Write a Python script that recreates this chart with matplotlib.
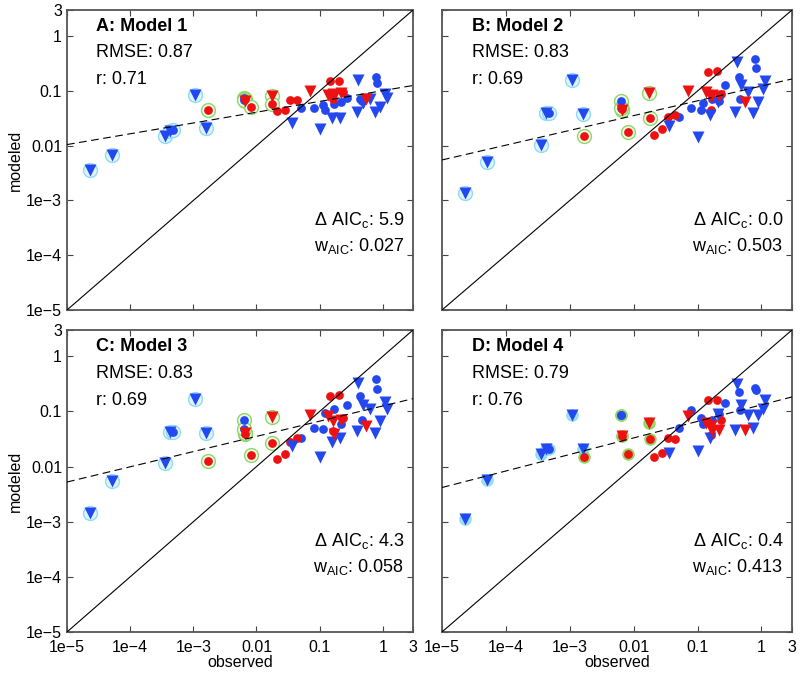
import matplotlib
matplotlib.use("Agg")
import matplotlib.pyplot as plt
import numpy as np

plt.rcParams['font.family'] = ['Liberation Sans', 'DejaVu Sans']
plt.rcParams['mathtext.default'] = 'regular'

# observed values (shared by all four models)
obs = [2.3e-5, 5.1e-5, 3.6e-4, 4.3e-4, 4.8e-4, 1.07e-3, 1.6e-3, 1.7e-3, 6.4e-3, 6.6e-3,
       6.5e-3, 6.3e-3, 8.1e-3, 0.0174, 0.0178, 0.021, 0.028, 0.034, 0.044,
       0.145, 0.20, 0.07, 0.135, 0.16, 0.22, 0.16, 0.235, 0.55, 0.41, 0.78, 0.82, 0.62,
       1.07, 0.39, 0.74, 0.89, 0.08, 0.115, 0.12, 0.27, 0.17, 0.22, 0.155, 0.21, 0.1,
       0.051, 0.44, 0.036, 1.15, 0.48, 0.46, 0.17]

# marker type: bv blue triangle, bo blue circle, rv red triangle, ro red circle
kind = ['bv', 'bv', 'bv', 'bv', 'bo', 'bv', 'bv', 'ro', 'bo', 'ro',
        'rv', 'bo', 'ro', 'rv', 'ro', 'ro', 'ro', 'ro', 'ro',
        'ro', 'ro', 'rv', 'rv', 'rv', 'rv', 'ro', 'ro', 'rv', 'bv', 'bo', 'bo', 'bv',
        'bv', 'bv', 'bv', 'bv', 'bo', 'bo', 'bo', 'bo', 'bo', 'bo', 'bv', 'bv', 'bv',
        'bo', 'bo', 'bv', 'bv', 'bv', 'bo', 'rv']

# halo: c = cyan, g = green, n = none
halo = ['c', 'c', 'c', 'c', 'c', 'c', 'c', 'g', 'g', 'g',
        'g', 'g', 'g', 'g', 'g', 'n', 'n', 'n', 'n'] + ['n'] * 33

mod_1 = [3.6e-3, 6.9e-3, 0.0148, 0.0186, 0.019, 0.085, 0.021, 0.044, 0.075, 0.07,
         0.065, 0.068, 0.05, 0.081, 0.058, 0.043, 0.045, 0.068, 0.067,
         0.15, 0.15, 0.1, 0.083, 0.087, 0.09, 0.072, 0.095, 0.072, 0.16, 0.18, 0.14, 0.072,
         0.089, 0.042, 0.042, 0.051, 0.049, 0.056, 0.045, 0.074, 0.059, 0.062, 0.032, 0.032, 0.02,
         0.048, 0.072, 0.026, 0.075, 0.06, 0.065, 0.08]
mod_2 = [1.35e-3, 5.0e-3, 0.0103, 0.039, 0.039, 0.16, 0.038, 0.015, 0.066, 0.046,
         0.044, 0.048, 0.018, 0.091, 0.032, 0.016, 0.020, 0.033, 0.037,
         0.22, 0.23, 0.1, 0.095, 0.078, 0.081, 0.045, 0.087, 0.062, 0.34, 0.39, 0.26, 0.095,
         0.107, 0.042, 0.039, 0.063, 0.049, 0.045, 0.06, 0.13, 0.07, 0.066, 0.036, 0.062, 0.0145,
         0.033, 0.18, 0.023, 0.15, 0.13, 0.071, 0.085]
mod_3 = [1.45e-3, 5.4e-3, 0.0115, 0.042, 0.042, 0.17, 0.040, 0.0126, 0.071, 0.039,
         0.040, 0.049, 0.016, 0.080, 0.027, 0.014, 0.017, 0.028, 0.033,
         0.19, 0.2, 0.087, 0.082, 0.066, 0.071, 0.044, 0.076, 0.054, 0.33, 0.39, 0.26, 0.11,
         0.15, 0.044, 0.041, 0.066, 0.05, 0.048, 0.092, 0.13, 0.11, 0.058, 0.028, 0.033, 0.015,
         0.033, 0.19, 0.024, 0.11, 0.13, 0.071, 0.039]
mod_4 = [1.1e-3, 5.8e-3, 0.017, 0.021, 0.021, 0.085, 0.021, 0.015, 0.087, 0.036,
         0.036, 0.087, 0.017, 0.062, 0.032, 0.015, 0.018, 0.033, 0.032,
         0.16, 0.16, 0.082, 0.062, 0.054, 0.047, 0.038, 0.071, 0.047, 0.32, 0.27, 0.24, 0.087,
         0.11, 0.047, 0.05, 0.087, 0.107, 0.076, 0.06, 0.14, 0.07, 0.09, 0.033, 0.09, 0.019,
         0.05, 0.23, 0.018, 0.16, 0.13, 0.107, 0.044]

titles = ['A: Model 1', 'B: Model 2', 'C: Model 3', 'D: Model 4']
rmse = ['0.87', '0.83', '0.83', '0.79']
r_val = ['0.71', '0.69', '0.69', '0.76']
d_aic = ['5.9', '0.0', '4.3', '0.4']
w_aic = ['0.027', '0.503', '0.058', '0.413']
# log-log regression lines (slope, intercept at log10(obs)=0)
fit_slope = [0.197, 0.27, 0.276, 0.30]
fit_icpt = [-0.994, -0.91, -0.90, -0.88]

ticks = [1e-5, 1e-4, 1e-3, 0.01, 0.1, 1, 3]
tick_labels = ['1e\u22125', '1e\u22124', '1e\u22123', '0.01', '0.1', '1', '3']

blue = '#2448f0'
red = '#ee1111'

fig = plt.figure(figsize=(8.05, 6.75), dpi=100)
pos = [[0.0832, 0.5407, 0.4298, 0.4444],
       [0.549, 0.5407, 0.4348, 0.4444],
       [0.0832, 0.0637, 0.4298, 0.4474],
       [0.549, 0.0637, 0.4348, 0.4474]]
mods = [mod_1, mod_2, mod_3, mod_4]

x = np.array(obs)
kind = np.array(kind)
halo = np.array(halo)

for i in range(4):
    ax = fig.add_axes(pos[i])
    y = np.array(mods[i])
    ax.set_xscale('log')
    ax.set_yscale('log')
    ax.set_xlim(1e-5, 3)
    ax.set_ylim(1e-5, 3)

    # halos
    hs = 10 if i < 3 else 8
    for h, ec, fc in [('c', '#8fdcf2', '#dcf5fc'), ('g', '#8ed86a', '#eefae6')]:
        m = halo == h
        if i == 3:
            fc = '#9fe3f5' if h == 'c' else '#a6d860'
        ax.plot(x[m], y[m], 'o', ms=hs, mfc=fc, mec=ec, mew=1.0, zorder=2)

    for k, mk, col, ms in [('bo', 'o', blue, 6.3), ('ro', 'o', red, 6.3),
                           ('bv', 'v', blue, 8), ('rv', 'v', red, 8)]:
        m = kind == k
        ax.plot(x[m], y[m], mk, ms=ms, color=col, mec='none', zorder=3)

    ax.plot([1e-5, 3], [1e-5, 3], color='black', lw=0.8, zorder=4)
    xl = np.array([1e-5, 3])
    yl = 10 ** (fit_icpt[i] + fit_slope[i] * np.log10(xl))
    ax.plot(xl, yl, color='black', lw=0.8, ls=(0, (7, 4)), zorder=4)

    ax.set_xticks(ticks)
    ax.set_yticks(ticks)
    ax.minorticks_off()
    ax.tick_params(direction='in', top=True, right=True, length=4, width=0.8,
                   labelsize=11.5, color='#444444')
    ax.tick_params(axis='x', pad=6)
    if i in (0, 2):
        ax.set_yticklabels(tick_labels)
        ax.set_ylabel('modeled', fontsize=11.5, labelpad=2)
    else:
        ax.set_yticklabels([])
    if i in (2, 3):
        ax.set_xticklabels(tick_labels)
        ax.set_xlabel('observed', fontsize=11.5, labelpad=0)
    else:
        ax.set_xticklabels([])
    for s in ax.spines.values():
        s.set_color('#555555')
        s.set_linewidth(1.3)

    ax.text(0.085, 0.945, titles[i], transform=ax.transAxes, fontsize=13,
            fontweight='bold', va='center')
    ax.text(0.085, 0.857, 'RMSE: ' + rmse[i], transform=ax.transAxes, fontsize=13,
            va='center')
    ax.text(0.085, 0.768, 'r: ' + r_val[i], transform=ax.transAxes, fontsize=13,
            va='center')
    ax.text(0.975, 0.30, r'$\Delta$ AIC$_c$: ' + d_aic[i], transform=ax.transAxes,
            fontsize=13, ha='right', va='center')
    ax.text(0.975, 0.215, 'w$_{AIC}$: ' + w_aic[i], transform=ax.transAxes,
            fontsize=13, ha='right', va='center')

fig.savefig('out.png', dpi=100)
